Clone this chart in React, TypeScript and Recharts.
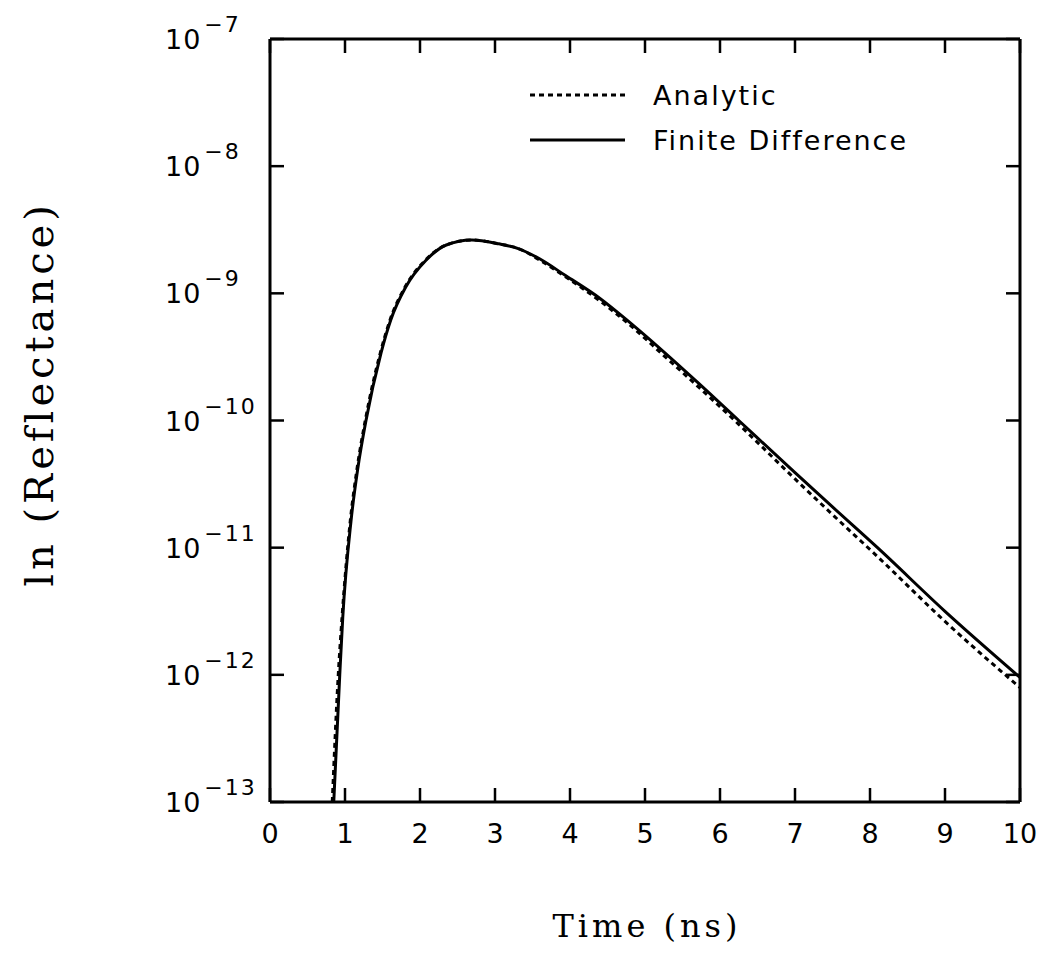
import { Legend, Line, LineChart, XAxis, YAxis } from "recharts";

// values (time in ns, reflectance on a log axis)
const analyticTime = [
  0.83, 0.91, 0.96, 1.07, 1.16, 1.27, 1.47, 1.6, 1.8, 2.07, 2.35, 2.69, 3.05, 3.32, 3.6, 3.94, 4.4,
  4.82, 5.25, 5.72, 6.25, 7.0, 7.5, 8.1, 9.0, 10.0,
];
const analyticReflectance = [
  1e-13, 1e-12, 2.82e-12, 1.62e-11, 4.17e-11, 1e-10, 3.39e-10, 6.17e-10, 1.12e-9, 1.82e-9, 2.4e-9,
  2.63e-9, 2.45e-9, 2.24e-9, 1.82e-9, 1.35e-9, 8.71e-10, 5.5e-10, 3.24e-10, 1.82e-10, 9.33e-11,
  3.47e-11, 1.82e-11, 8.51e-12, 2.63e-12, 7.94e-13,
];

const finiteTime = [
  0.85, 0.93, 0.97, 1.08, 1.17, 1.28, 1.48, 1.61, 1.81, 2.08, 2.35, 2.69, 3.05, 3.32, 3.6, 3.94, 4.4,
  4.82, 5.25, 5.72, 6.25, 7.0, 7.5, 8.1, 9.0, 10.0,
];
const finiteReflectance = [
  1e-13, 1e-12, 2.82e-12, 1.62e-11, 4.17e-11, 1e-10, 3.39e-10, 6.17e-10, 1.12e-9, 1.82e-9, 2.4e-9,
  2.63e-9, 2.45e-9, 2.24e-9, 1.86e-9, 1.38e-9, 9.12e-10, 5.75e-10, 3.47e-10, 1.95e-10, 1e-10,
  3.89e-11, 2.09e-11, 1e-11, 3.16e-12, 9.55e-13,
];

const timeTicks = [0, 1, 2, 3, 4, 5, 6, 7, 8, 9, 10];
const reflectanceTicks = [1e-13, 1e-12, 1e-11, 1e-10, 1e-9, 1e-8, 1e-7];

const analyticRows = analyticTime.map((time, i) => ({ time, reflectance: analyticReflectance[i] }));
const finiteRows = finiteTime.map((time, i) => ({ time, reflectance: finiteReflectance[i] }));

const WIDTH = 1047;
const HEIGHT = 958;
const PLOT = { left: 270, right: 1020, top: 39, bottom: 802 };
const TICK_LEN = 14;
const tickFont = "'DejaVu Sans', sans-serif";
const titleFont = "'DejaVu Serif', serif";
const frame = { stroke: "#000", strokeWidth: 3 };

// tick marks point into the plot on all four sides, so the tick components draw them
function PowerTick({ y, payload }: any) {
  const exponent = Math.round(Math.log10(payload.value));
  return (
    <g>
      <line x1={PLOT.left} x2={PLOT.left + TICK_LEN} y1={y} y2={y} stroke="#000" strokeWidth={2.5} />
      <text x={PLOT.left - 105} y={y + 10} textAnchor="start" fontFamily={tickFont} fontSize={27} fill="#000">
        <tspan letterSpacing={1}>10</tspan>
        <tspan dx={3} dy={-17} fontSize={22} letterSpacing={2}>
          {`\u2212${Math.abs(exponent)}`}
        </tspan>
      </text>
    </g>
  );
}

function RightTick({ y }: any) {
  return <line x1={PLOT.right} x2={PLOT.right - TICK_LEN} y1={y} y2={y} stroke="#000" strokeWidth={2.5} />;
}

// bottom axis tick also marks the same time on the top edge
function TimeTick({ x, payload }: any) {
  return (
    <g>
      <line x1={x} x2={x} y1={PLOT.bottom} y2={PLOT.bottom - TICK_LEN} stroke="#000" strokeWidth={2.5} />
      <line x1={x} x2={x} y1={PLOT.top} y2={PLOT.top + TICK_LEN} stroke="#000" strokeWidth={2.5} />
      <text x={x} y={PLOT.bottom + 41} textAnchor="middle" fontFamily={tickFont} fontSize={27} fill="#000">
        {payload.value}
      </text>
    </g>
  );
}

function TimeTitle() {
  return (
    <text x={647} y={937} textAnchor="middle" fontFamily={titleFont} fontSize={32} letterSpacing={4} fill="#000">
      Time (ns)
    </text>
  );
}

function ReflectanceTitle() {
  return (
    <text
      x={53}
      y={394}
      transform="rotate(-90 53 394)"
      textAnchor="middle"
      fontFamily={titleFont}
      fontSize={40}
      letterSpacing={4}
      fill="#000"
    >
      ln (Reflectance)
    </text>
  );
}

function LegendBox({ payload }: any) {
  const rows = payload ?? [];
  return (
    <svg width={440} height={100}>
      {rows.map((entry: any, i: number) => {
        const y = 25 + i * 45;
        return (
          <g key={entry.value}>
            <line
              x1={10}
              x2={105}
              y1={y}
              y2={y}
              stroke="#000"
              strokeWidth={3}
              strokeDasharray={entry.payload?.strokeDasharray}
            />
            <text x={133} y={y + 10} fontFamily={tickFont} fontSize={27} letterSpacing={2} fill="#000">
              {entry.value}
            </text>
          </g>
        );
      })}
    </svg>
  );
}

export default function App() {
  return (
    <div style={{ position: "absolute", left: 0, top: 0, width: WIDTH, height: HEIGHT, background: "#fff" }}>
      <LineChart
        width={WIDTH}
        height={HEIGHT}
        margin={{ top: PLOT.top, right: WIDTH - PLOT.right, left: PLOT.left, bottom: HEIGHT - PLOT.bottom }}
      >
        <XAxis
          xAxisId="bottom"
          dataKey="time"
          type="number"
          domain={[0, 10]}
          ticks={timeTicks}
          interval={0}
          allowDataOverflow
          mirror
          height={40}
          tickMargin={0}
          axisLine={frame}
          tickLine={false}
          tick={<TimeTick />}
          label={<TimeTitle />}
        />
        <XAxis
          xAxisId="top"
          orientation="top"
          type="number"
          domain={[0, 10]}
          allowDataOverflow
          mirror
          height={40}
          axisLine={frame}
          tickLine={false}
          tick={false}
        />
        <YAxis
          yAxisId="left"
          scale="log"
          type="number"
          domain={[1e-13, 1e-7]}
          ticks={reflectanceTicks}
          interval={0}
          allowDataOverflow
          mirror
          width={40}
          tickMargin={0}
          axisLine={frame}
          tickLine={false}
          tick={<PowerTick />}
          label={<ReflectanceTitle />}
        />
        <YAxis
          yAxisId="right"
          orientation="right"
          scale="log"
          type="number"
          domain={[1e-13, 1e-7]}
          ticks={reflectanceTicks}
          interval={0}
          allowDataOverflow
          mirror
          width={40}
          axisLine={frame}
          tickLine={false}
          tick={<RightTick />}
        />
        <Legend
          layout="vertical"
          align="center"
          verticalAlign="middle"
          content={<LegendBox />}
          wrapperStyle={{ position: "absolute", left: 520, top: 70, width: 440, height: 100 }}
        />
        <Line
          data={analyticRows}
          dataKey="reflectance"
          xAxisId="bottom"
          yAxisId="left"
          name="Analytic"
          type="monotone"
          stroke="#000"
          strokeWidth={3}
          strokeDasharray="5 4"
          dot={false}
          isAnimationActive={false}
        />
        <Line
          data={finiteRows}
          dataKey="reflectance"
          xAxisId="bottom"
          yAxisId="left"
          name="Finite Difference"
          type="monotone"
          stroke="#000"
          strokeWidth={3}
          dot={false}
          isAnimationActive={false}
        />
      </LineChart>
    </div>
  );
}
